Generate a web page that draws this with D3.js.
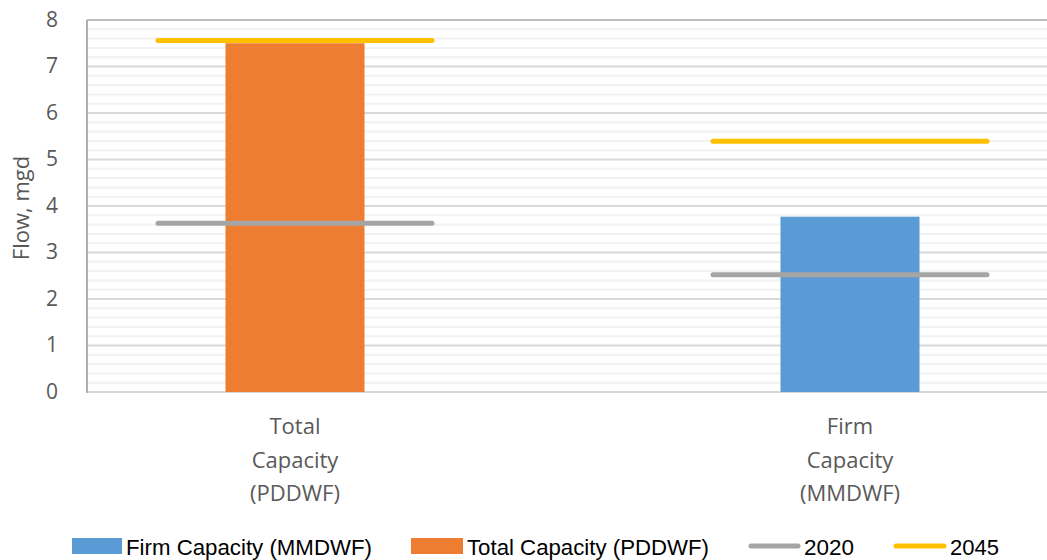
<!DOCTYPE html>
<html lang="en">
<head>
    <meta charset="UTF-8">
    <title>Flow capacity</title>
    <script src="https://cdn.jsdelivr.net/npm/d3@7"></script>
    <style>
        body { margin: 0; background: #fff; }
        text { font-family: "Open Sans", "Noto Sans", sans-serif; fill: #595959; }
    </style>
</head>
<body>
<div id="myDiv"><svg width="1047" height="560"></svg></div>

<script>

    // chart data
    const categories = [["Total", "Capacity", "(PDDWF)"], ["Firm", "Capacity", "(MMDWF)"]];
    const catKeys = ["Total Capacity (PDDWF)", "Firm Capacity (MMDWF)"];
    const capacity = [7.5, 3.77];          // bar value per category
    const barSeries = ["Firm Capacity (MMDWF)", "Total Capacity (PDDWF)"];
    const flow2020 = [3.63, 2.52];
    const flow2045 = [7.56, 5.39];
    const yTicks = [0, 1, 2, 3, 4, 5, 6, 7, 8];

    const colors = {
        "Firm Capacity (MMDWF)": "#5b9bd5",
        "Total Capacity (PDDWF)": "#ed7d31",
        "2020": "#a5a5a5",
        "2045": "#ffc000"
    };

    const svg = d3.select("#myDiv").select("svg");

    const plotLeft = 87, plotTop = 20, plotBottom = 392, plotRight = 1047;

    const y = d3.scaleLinear().domain([0, 8]).range([plotBottom, plotTop]);
    const x = d3.scalePoint().domain(catKeys).range([295, 850]);
    const barW = 139;

    // minor gridlines
    svg.append("g")
        .selectAll("line")
        .data(d3.range(0, 8.01, 0.2).filter(function(v) { return Math.abs(v - Math.round(v)) > 0.01; }))
        .enter()
        .append("line")
        .attr("x1", plotLeft).attr("x2", plotRight)
        .attr("y1", function(d) { return y(d); })
        .attr("y2", function(d) { return y(d); })
        .attr("stroke", "#f2f2f2")
        .attr("stroke-width", 2);

    // major gridlines
    svg.append("g")
        .selectAll("line")
        .data(yTicks)
        .enter()
        .append("line")
        .attr("x1", plotLeft).attr("x2", plotRight)
        .attr("y1", function(d) { return y(d); })
        .attr("y2", function(d) { return y(d); })
        .attr("stroke", function(d) { return d === 8 ? "#bdbdbd" : "#d9d9d9"; })
        .attr("stroke-width", 2);

    // left axis line
    svg.append("line")
        .attr("x1", plotLeft).attr("x2", plotLeft)
        .attr("y1", y(8)).attr("y2", y(0) + 1)
        .attr("stroke", "#b0b0b0")
        .attr("stroke-width", 2);

    // y tick labels
    const yAxis = d3.axisLeft(y).tickValues(yTicks).tickSize(0).tickPadding(29);
    const yg = svg.append("g").attr("transform", "translate(" + plotLeft + ",0)").call(yAxis);
    yg.select(".domain").remove();
    yg.selectAll("text")
        .style("font-family", "'Open Sans', sans-serif")
        .style("font-size", "21px")
        .attr("dy", "0.3em")
        .attr("fill", "#595959");

    // y title
    svg.append("text")
        .attr("transform", "translate(29," + ((plotTop + plotBottom) / 2 + 2) + ") rotate(-90)")
        .attr("text-anchor", "middle")
        .style("font-size", "22px")
        .text("Flow, mgd");

    // bars
    svg.append("g")
        .selectAll("rect")
        .data(catKeys)
        .enter()
        .append("rect")
        .attr("x", function(d) { return x(d) - barW / 2; })
        .attr("y", function(d, i) { return y(capacity[i]); })
        .attr("width", barW)
        .attr("height", function(d, i) { return y(0) - y(capacity[i]); })
        .attr("fill", function(d) { return colors[d]; });

    // flow lines
    [["2020", flow2020], ["2045", flow2045]].forEach(function(s) {
        svg.append("g")
            .selectAll("line")
            .data(catKeys)
            .enter()
            .append("line")
            .attr("x1", function(d) { return x(d) - barW + 2; })
            .attr("x2", function(d) { return x(d) + barW - 2; })
            .attr("y1", function(d, i) { return y(s[1][i]); })
            .attr("y2", function(d, i) { return y(s[1][i]); })
            .attr("stroke", colors[s[0]])
            .attr("stroke-width", 5)
            .attr("stroke-linecap", "round");
    });

    // category labels
    svg.append("g")
        .selectAll("text")
        .data(catKeys)
        .enter()
        .append("text")
        .attr("text-anchor", "middle")
        .attr("x", function(d) { return x(d); })
        .attr("y", 434)
        .style("font-size", "22px")
        .each(function(d, i) {
            const t = d3.select(this);
            categories[i].forEach(function(w, j) {
                t.append("tspan")
                    .attr("x", x(d))
                    .attr("dy", j === 0 ? 0 : 33.5)
                    .text(w);
            });
        });

    // legend
    const legend = [
        {name: barSeries[0], type: "rect", x0: 72, x1: 122, tx: 126, tw: 246},
        {name: barSeries[1], type: "rect", x0: 411, x1: 463, tx: 467, tw: 242},
        {name: "2020", type: "line", x0: 749, x1: 800, tx: 804, tw: 50},
        {name: "2045", type: "line", x0: 894, x1: 946, tx: 950, tw: 49}
    ];
    const lg = svg.append("g")
        .selectAll("g")
        .data(legend)
        .enter()
        .append("g");
    lg.filter(function(d) { return d.type === "rect"; })
        .append("rect")
        .attr("x", function(d) { return d.x0; })
        .attr("y", 538)
        .attr("width", function(d) { return d.x1 - d.x0; })
        .attr("height", 16)
        .attr("fill", function(d) { return colors[d.name]; });
    lg.filter(function(d) { return d.type === "line"; })
        .append("line")
        .attr("x1", function(d) { return d.x0 + 2; })
        .attr("x2", function(d) { return d.x1 - 2; })
        .attr("y1", 546).attr("y2", 546)
        .attr("stroke", function(d) { return colors[d.name]; })
        .attr("stroke-width", 5)
        .attr("stroke-linecap", "round");
    lg.append("text")
        .attr("x", function(d) { return d.tx; })
        .attr("y", 555)
        .attr("textLength", function(d) { return d.tw; })
        .attr("lengthAdjust", "spacingAndGlyphs")
        .style("font-family", "'Liberation Sans Narrow', 'Liberation Sans', sans-serif")
        .style("font-size", "22px")
        .style("fill", "#000")
        .text(function(d) { return d.name; });
</script>

</body>
</html>
